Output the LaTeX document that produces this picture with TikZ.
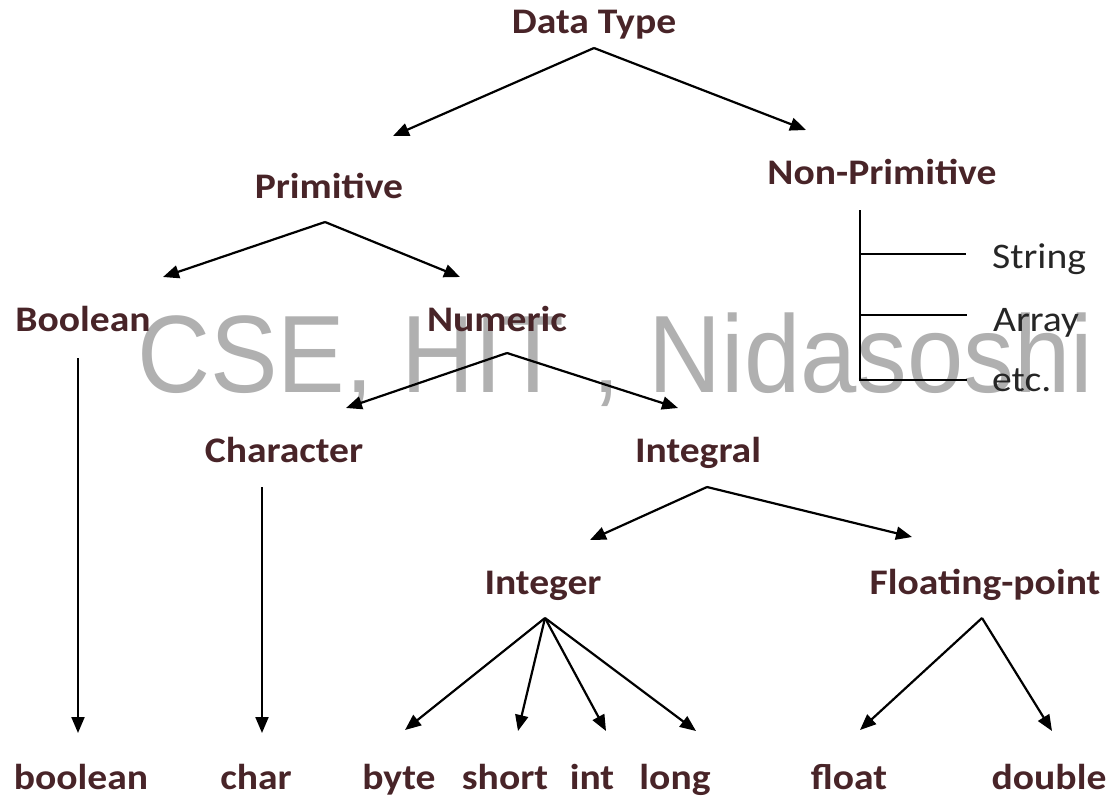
\documentclass[tikz,border=0pt]{standalone}
\usepackage{fontspec}
\setmainfont{Carlito}[FakeStretch=1.1]
\newfontfamily\wmfont{Liberation Sans}[FakeStretch=0.92]
\usetikzlibrary{arrows.meta}
\definecolor{labelbrown}{RGB}{72,36,40}
\definecolor{wmgray}{RGB}{176,176,176}
\begin{document}
\begin{tikzpicture}[x=1pt,y=-1pt,
  typ/.style={font=\fontsize{36}{40}\selectfont\bfseries, text=labelbrown, inner sep=0pt, anchor=base},
  sub/.style={font=\fontsize{36}{40}\selectfont, text=black!85, inner sep=0pt, anchor=base west},
  wm/.style={font=\wmfont\fontsize{110}{120}\selectfont, text=wmgray, inner sep=0pt, anchor=base west},
  arr/.style={-{Triangle[length=16pt,width=13pt]}, line width=2.2pt},
  ln/.style={line width=2.2pt}]
\useasboundingbox (0,0) rectangle (1111,798);
\fill[white] (0,0) rectangle (1111,798);

% watermark behind everything
\node[wm] (wm) at (137,392) {CSE, HIT , Nidasoshi};

% type labels
\node[typ] (dt)   at (594,33)  {Data Type};
\node[typ] (prim) at (329,198) {Primitive};
\node[typ] (np)   at (882,184) {Non-Primitive};
\node[typ] (bool) at (83,331)  {Boolean};
\node[typ] (num)  at (497,331) {Numeric};
\node[typ] (chr)  at (284,462) {Character};
\node[typ] (intl) at (698,462) {Integral};
\node[typ] (intg) at (543,594) {Integer};
\node[typ] (flp)  at (985,594) {Floating-point};

\node[typ] (kbool)   at (81,789)   {boolean};
\node[typ] (kchar)   at (256,789)  {char};
\node[typ] (kbyte)   at (399,789)  {byte};
\node[typ] (kshort)  at (505,789)  {short};
\node[typ] (kint)    at (592,789)  {int};
\node[typ] (klong)   at (675,789)  {long};
\node[typ] (kfloat)  at (849,789)  {float};
\node[typ] (kdouble) at (1049,789) {double};

\node[sub] (str) at (992,268) {String};
\node[sub] (ary) at (993,331) {Array};
\node[sub] (etc) at (992,391) {etc.};

% branch points and arrow ends
\coordinate (dt-s) at (594,48);
\coordinate (to-prim) at (393,136);
\coordinate (to-np) at (806,130);
\coordinate (pr-s) at (325,222);
\coordinate (to-bool) at (163,277);
\coordinate (to-num) at (460,277);
\coordinate (nu-s) at (507,353);
\coordinate (to-chr) at (346,408);
\coordinate (to-intl) at (678,408);
\coordinate (il-s) at (707,487);
\coordinate (to-intg) at (590,540);
\coordinate (to-flp) at (912,537);
\coordinate (ig-s) at (545,618);
\coordinate (to-byte) at (405,730);
\coordinate (to-short) at (518,731);
\coordinate (to-int) at (606,731);
\coordinate (to-long) at (696,731);
\coordinate (fp-s) at (982,618);
\coordinate (to-float) at (860,730);
\coordinate (to-double) at (1052,731);
\coordinate (bo-s) at (78,358);
\coordinate (to-kbool) at (78,733);
\coordinate (ch-s) at (262,487);
\coordinate (to-kchar) at (262,733);
\coordinate (np-s) at (860,210);
\coordinate (np-e) at (860,380);
\coordinate (np-1) at (860,254);
\coordinate (np-2) at (860,315);
\coordinate (to-str) at (966,254);
\coordinate (to-ary) at (967,315);
\coordinate (to-etc) at (967,380);

% connectors
\draw[arr] (dt-s) -- (to-prim);
\draw[arr] (dt-s) -- (to-np);
\draw[arr] (pr-s) -- (to-bool);
\draw[arr] (pr-s) -- (to-num);
\draw[arr] (nu-s) -- (to-chr);
\draw[arr] (nu-s) -- (to-intl);
\draw[arr] (il-s) -- (to-intg);
\draw[arr] (il-s) -- (to-flp);
\draw[arr] (ig-s) -- (to-byte);
\draw[arr] (ig-s) -- (to-short);
\draw[arr] (ig-s) -- (to-int);
\draw[arr] (ig-s) -- (to-long);
\draw[arr] (fp-s) -- (to-float);
\draw[arr] (fp-s) -- (to-double);
\draw[arr] (bo-s) -- (to-kbool);
\draw[arr] (ch-s) -- (to-kchar);

\draw[ln] (np-s) -- (np-e) -- (to-etc);
\draw[ln] (np-1) -- (to-str);
\draw[ln] (np-2) -- (to-ary);
\end{tikzpicture}
\end{document}
